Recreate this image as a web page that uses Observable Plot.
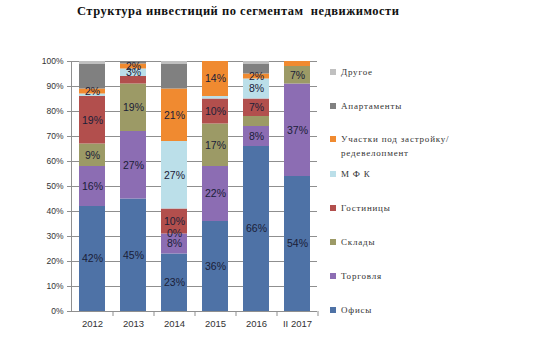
<!DOCTYPE html>
<html><head><meta charset="utf-8">
<script src="https://cdn.jsdelivr.net/npm/d3@7"></script>
<script src="https://cdn.jsdelivr.net/npm/@observablehq/plot@0.6"></script>
<style>
body{margin:0;background:#fff;}
#wrap{position:relative;width:544px;height:343px;overflow:hidden;}
#title{height:30px;box-sizing:border-box;padding-left:77px;padding-top:4px;font:bold 12.5px "Liberation Serif",serif;color:#111;letter-spacing:0.5px;white-space:pre;}
#legend{position:absolute;left:330px;top:0;font:9px "Liberation Serif",serif;color:#333;letter-spacing:0.8px;}
.li{position:absolute;white-space:nowrap;}
.sw{position:absolute;left:0;width:6px;height:6px;}
.lt{position:absolute;left:11px;line-height:14px;}
</style></head>
<body><div id="wrap"><div id="title">Структура инвестиций по сегментам  недвижимости</div><div id="chart"></div><div id="legend"></div></div>
<script>
const years = ["2012","2013","2014","2015","2016","II 2017"];
const series = ["Офисы","Торговля","Склады","Гостиницы","МФК","Участки под застройку/ редевелопмент","Апартаменты","Другое"];
const colors = ["#4E72A6","#8C6DB3","#9C9A66","#B24F4D","#BBDFE9","#F08A30","#808080","#C0C0C0"];
const offices   = [42,45,23,36,66,54];
const retail    = [16,27,8,22,8,37];
const warehouse = [9,19,0,17,4,7];
const hotels    = [19,3,10,10,7,0];
const mfc       = [1,3,27,1,8,0];
const land      = [2,2,21,14,2,2];
const apartments= [10,1,10,0,4,0];
const other     = [1,0,1,0,1,0];
const yTicks = [0,10,20,30,40,50,60,70,80,90,100];
// segments without a data label in the reference
const unlabeled = ["2012|МФК","2013|Гостиницы","2015|МФК","2016|Склады","II 2017|Участки под застройку/ редевелопмент","II 2017|Гостиницы","II 2017|МФК"];
const noLabelSeries = ["Апартаменты","Другое"];

const valueArrays = [offices,retail,warehouse,hotels,mfc,land,apartments,other];
const data = [];
series.forEach((s,si)=>{
  years.forEach((y,yi)=>{
    data.push({year:y, series:s, value:valueArrays[si][yi]});
  });
});
const showLabel = d => !noLabelSeries.includes(d.series) && !unlabeled.includes(d.year+"|"+d.series);

const chart = Plot.plot({
  width:544, height:313,
  marginLeft:71, marginRight:227, marginTop:31, marginBottom:32,
  style:{fontFamily:"Liberation Sans, sans-serif", fontSize:"9px", color:"#333", background:"transparent"},
  x:{domain:years, paddingInner:0.37, paddingOuter:0.185, label:null},
  y:{domain:[0,100], label:null},
  color:{domain:series, range:colors},
  marks:[
    Plot.ruleY(yTicks, {stroke:"#8f8f8f", strokeWidth:1}),
    Plot.barY(data, {x:"year", y:"value", fill:"series"}),
    Plot.text(data, Plot.stackY({x:"year", y:"value", text:d=>showLabel(d)?d.value+"%":"", fill:"#1a2038", fontSize:10.5, fontFamily:"Liberation Sans, sans-serif"})),
    Plot.axisY(yTicks, {tickSize:4, tickPadding:4, tickFormat:d=>d+"%", stroke:"#8f8f8f", fill:"#333", fontSize:8.5, label:null}),
    Plot.frame({anchor:"left", stroke:"#8f8f8f"}),
    Plot.axisX({tickSize:5, tickFormat:()=>"", dx:20.5, stroke:"#8f8f8f", label:null}),
    Plot.axisX({tickSize:0, tickPadding:9, fill:"#333", fontSize:9.5, label:null}),
    Plot.ruleY([0], {stroke:"#8f8f8f"})
  ]
});
document.getElementById("chart").appendChild(chart);

const legendY = [310,276,242,208,174,139,106,72];
const legend = document.getElementById("legend");
series.forEach((s,i)=>{
  const y = legendY[i];
  const item = document.createElement("div");
  item.className="li";
  item.style.top=(y-3)+"px";
  const sw = document.createElement("div");
  sw.className="sw"; sw.style.background=colors[i]; sw.style.top="0px";
  const t = document.createElement("div");
  t.className="lt"; t.style.top="-4px";
  if (s.startsWith("Участки")) {
    t.innerHTML = "Участки под застройку/<br>редевелопмент";
  } else if (s==="МФК") {
    t.textContent = "М Ф К";
  } else t.textContent = s;
  item.appendChild(sw); item.appendChild(t);
  legend.appendChild(item);
});
</script></body></html>
